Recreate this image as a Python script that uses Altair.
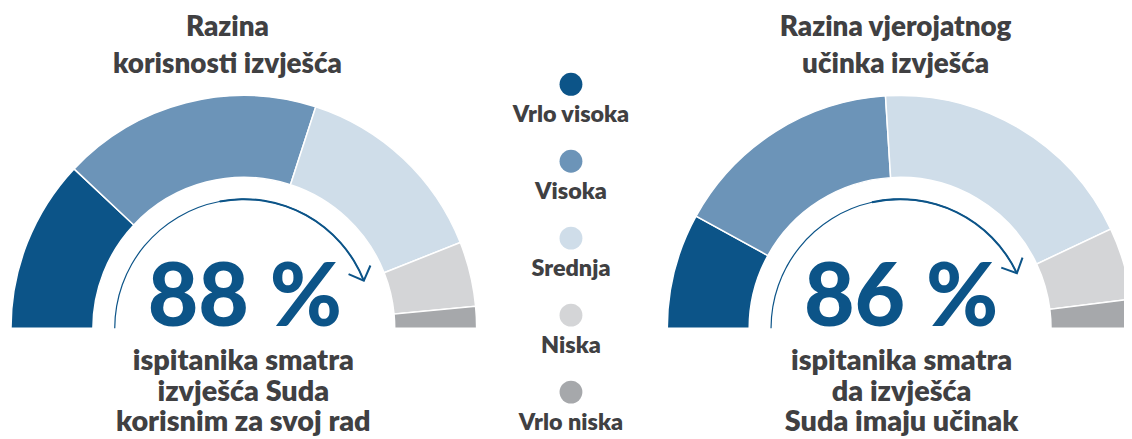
import math
import altair as alt
import pandas as pd

# ---------------- data ----------------
categories = ["Vrlo visoka", "Visoka", "Srednja", "Niska", "Vrlo niska"]
colors = ["#0c5488", "#6c94b8", "#cfdde9", "#d4d5d7", "#a6a8ab"]
usefulness = [24, 36, 28, 9, 3]      # Razina korisnosti izvješća (%)
impact = [16, 32, 38, 10, 4]         # Razina vjerojatnog učinka izvješća (%)
headline = [88, 86]
headline_labels = ["88 %", "86 %"]
titles = [["Razina", "korisnosti izvješća"], ["Razina vjerojatnog", "učinka izvješća"]]
subtitles = [["ispitanika smatra", "izvješća Suda", "korisnim za svoj rad"],
             ["ispitanika smatra", "da izvješća", "Suda imaju učinak"]]

FONT = "Lato"
TEXT_GRAY = "#404042"
BLUE = "#0c5488"

# ---------------- tables ----------------
rows = []
for g, series in enumerate([usefulness, impact]):
    for i, (c, v) in enumerate(zip(categories, series)):
        rows.append({"gauge": g, "category": c, "order": i, "value": v})
gauge_df = pd.DataFrame(rows)
legend_df = pd.DataFrame({"category": categories, "order": list(range(len(categories)))})

theta_scale = alt.Scale(domain=[0, 100], range=[-math.pi / 2, math.pi / 2])
color_scale = alt.Scale(domain=categories, range=colors)

# layout (pixels in plot coordinates)
centers = [(237.5, 321), (898.5, 321)]
title_x = [221, 894]
sub_x = [237, 900]
R_OUT, R_IN, R_ARROW = 234.5, 152, 130


def gauge_layers(g):
    cx, cy = centers[g]
    layers = []
    arcs = alt.Chart(gauge_df).transform_filter(alt.datum.gauge == g).mark_arc(
        radius=R_OUT, radius2=R_IN, stroke="white", strokeWidth=1.5
    ).encode(
        theta=alt.Theta("value:Q", stack=True, scale=theta_scale),
        color=alt.Color("category:N", scale=color_scale, legend=None),
        order=alt.Order("order:Q"),
        x=alt.value(cx), y=alt.value(cy),
    )
    layers.append(arcs)

    hdf = pd.DataFrame({"p": [headline[g]], "label": [headline_labels[g]]})
    arrow = alt.Chart(hdf).mark_arc(
        radius=R_ARROW + 0.6, radius2=R_ARROW - 0.6, color=BLUE
    ).encode(
        theta=alt.Theta("p:Q", stack=True, scale=theta_scale),
        x=alt.value(cx), y=alt.value(cy),
    )
    layers.append(arrow)
    arrow_thick = alt.Chart(hdf).transform_calculate(
        half="datum.p * 0.5"
    ).mark_arc(
        radius=R_ARROW + 1.0, radius2=R_ARROW - 1.0, color=BLUE
    ).encode(
        theta=alt.Theta("half:Q", scale=theta_scale),
        theta2="p:Q",
        x=alt.value(cx), y=alt.value(cy),
    )
    layers.append(arrow_thick)

    head = alt.Chart(hdf).transform_calculate(
        phi="PI * (1 - datum.p / 100)",
    ).transform_calculate(
        ax=f"{cx} + {R_ARROW} * cos(datum.phi)",
        ay=f"{cy} - {R_ARROW} * sin(datum.phi)",
        rot="180 + 1.8 * datum.p",
    ).mark_point(
        shape="M -1 -1 L 0 0 L 1 -1", filled=False, strokeWidth=2,
        color=BLUE, size=560, opacity=1,
    ).encode(
        x=alt.X("ax:Q", scale=None, axis=None),
        y=alt.Y("ay:Q", scale=None, axis=None),
        angle=alt.Angle("rot:Q", scale=None),
    )
    layers.append(head)

    big = alt.Chart(hdf).mark_text(
        font=FONT, fontWeight=900, fontSize=88, color=BLUE,
        align="center", baseline="alphabetic",
    ).encode(text="label:N", x=alt.value(cx + 1), y=alt.value(319))
    layers.append(big)

    tdf = pd.DataFrame({"t": [titles[g]]})
    title = alt.Chart(tdf).mark_text(
        font=FONT, fontWeight=800, fontSize=28, color=TEXT_GRAY,
        align="center", baseline="alphabetic", lineHeight=36.5,
    ).encode(text="t:N", x=alt.value(title_x[g]), y=alt.value(27))
    layers.append(title)

    sdf = pd.DataFrame({"t": [subtitles[g]]})
    sub = alt.Chart(sdf).mark_text(
        font=FONT, fontWeight=800, fontSize=29, color=TEXT_GRAY,
        align="center", baseline="alphabetic", lineHeight=31,
    ).encode(text="t:N", x=alt.value(sub_x[g]), y=alt.value(363))
    layers.append(sub)
    return layers


legend_y = alt.Y("category:N", sort=categories, axis=None,
                 scale=alt.Scale(type="point", range=[75.3, 385.3], padding=0))
legend_dots = alt.Chart(legend_df).mark_point(filled=True, size=530, opacity=1, shape="circle").encode(
    x=alt.value(567), y=legend_y,
    color=alt.Color("category:N", scale=color_scale, legend=None),
)
legend_text = alt.Chart(legend_df).mark_text(
    font=FONT, fontWeight=800, fontSize=23.5, color=TEXT_GRAY,
    align="center", baseline="alphabetic", dy=38,
).encode(x=alt.value(567), y=legend_y, text="category:N")
legend = alt.layer(legend_dots, legend_text)

chart = alt.layer(
    *gauge_layers(0), *gauge_layers(1), legend
).resolve_scale(x="independent", y="independent").properties(
    width=1124, height=431, padding=0,
    autosize=alt.AutoSizeParams(type="none"),
).configure_view(strokeWidth=0)

chart.save("out.html", embed_options={"renderer": "svg", "actions": False})
